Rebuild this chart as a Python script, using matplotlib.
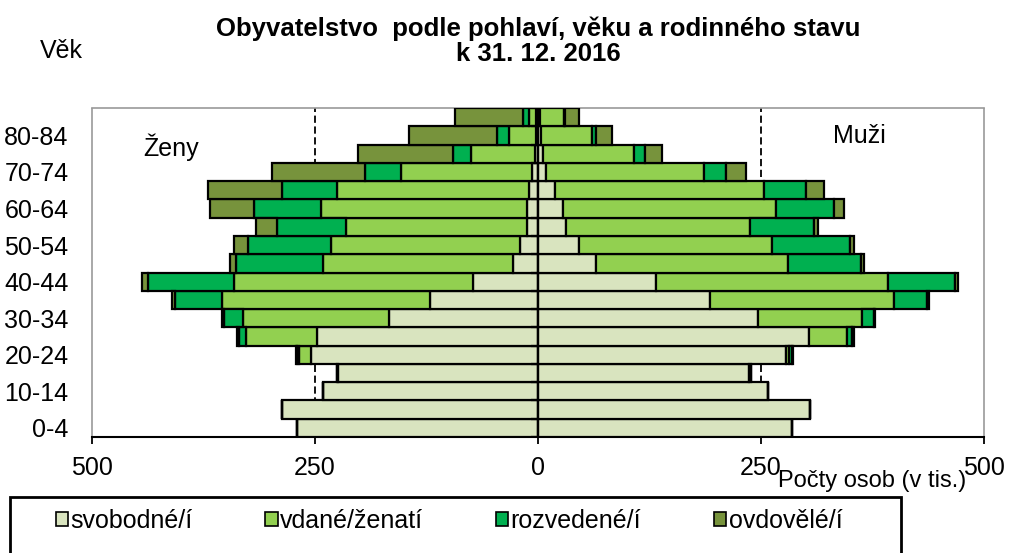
import matplotlib
matplotlib.use("Agg")
import matplotlib.pyplot as plt
import numpy as np
from matplotlib.patches import Rectangle, Patch

plt.rcParams['font.family'] = ['Liberation Sans', 'DejaVu Sans']

age_groups = ["0-4", "5-9", "10-14", "15-19", "20-24", "25-29", "30-34", "35-39",
              "40-44", "45-49", "50-54", "55-59", "60-64", "65-69", "70-74",
              "75-79", "80-84", "85+"]
series_labels = ["svobodné/í", "vdané/ženatí", "rozvedené/í", "ovdovělé/í"]
colors = ["#D9E4BF", "#92D050", "#00B050", "#77933C"]

# Women (thousands)
women_single = [270, 287.5, 240.8, 224, 255, 247.5, 166.5, 120.6, 73.2, 27.9, 19.7, 12.2, 12.2, 10.4, 6.6, 3.7, 2, 2]
women_married = [0, 0, 0, 1, 13, 80.4, 164, 234.2, 267.8, 212.9, 212.1, 203.6, 230.9, 214.7, 146.8, 71.3, 30.8, 8.4]
women_divorced = [0, 0, 0, 0, 2, 7, 21.7, 52.6, 95.9, 97.9, 93.5, 76.6, 75.5, 62.4, 40, 20.1, 13, 6.7]
women_widowed = [0, 0, 0, 0, 1, 2, 2.6, 3.4, 7.5, 6.8, 15.7, 24.3, 49.3, 82.2, 104.6, 106.9, 98.3, 75.5]

# Men (thousands)
men_single = [284.7, 304.5, 257.8, 236.9, 278, 304.1, 246.6, 193.2, 132.7, 65.4, 45.6, 31.8, 27.7, 18.7, 9.4, 5.7, 3.5, 2]
men_married = [0, 0, 0, 1.5, 3, 42.2, 116.6, 205.4, 259.2, 214.8, 216.7, 206.2, 239.1, 234.2, 177.1, 102.3, 57.1, 26.8]
men_divorced = [0, 0, 0, 0, 4, 5.7, 13, 37.4, 75.8, 82.2, 87, 71, 64.6, 47.1, 24.3, 11.6, 4.8, 1.9]
men_widowed = [0, 0, 0, 0, 1, 1.8, 1.5, 2.5, 3, 2.6, 4.5, 4.4, 11.2, 20.2, 22.7, 19.4, 17.6, 15]

x_ticks = [-500, -250, 0, 250, 500]
x_ticklabels = ["500", "250", "0", "250", "500"]

W, H = 1010, 553
fig = plt.figure(figsize=(W / 100, H / 100), dpi=100)
ax = fig.add_axes([92 / W, 1 - 437 / H, (984 - 92) / W, (437 - 108) / H])

fs = 18
y = np.arange(len(age_groups))

women = [women_single, women_married, women_divorced, women_widowed]
men = [men_single, men_married, men_divorced, men_widowed]

left_w = np.zeros(len(y))
left_m = np.zeros(len(y))
for vals_w, vals_m, c in zip(women, men, colors):
    vw = np.array(vals_w, dtype=float)
    vm = np.array(vals_m, dtype=float)
    ax.barh(y, -vw, left=-left_w, height=1.0, color=c, edgecolor="black",
            linewidth=1.6, zorder=3)
    ax.barh(y, vm, left=left_m, height=1.0, color=c, edgecolor="black",
            linewidth=1.6, zorder=3)
    left_w += vw
    left_m += vm

# dashed reference lines at +-250
for xv in (-250, 250):
    ax.axvline(xv, color="black", linestyle=(0, (4, 2)), linewidth=1.3, zorder=1)

# central axis with small category ticks
ax.axvline(0, color="black", linewidth=1.6, zorder=4)
bounds = np.arange(len(y) + 1) - 0.5
ax.hlines(bounds, -8, 0, color="black", linewidth=1.6, zorder=4)

ax.set_xlim(-500, 500)
ax.set_ylim(-0.5, len(y) - 0.5)

ax.set_xticks(x_ticks)
ax.set_xticklabels(x_ticklabels, fontsize=fs)
ax.tick_params(axis="x", direction="out", length=5, width=1.3, pad=9, colors="black")

ax.set_yticks(y[::2])
ax.set_yticklabels(age_groups[::2], fontsize=fs)
ax.tick_params(axis="y", length=0, pad=17)

for side in ("left", "top", "right"):
    ax.spines[side].set_color("#999999")
    ax.spines[side].set_linestyle((0, (2, 1)))
    ax.spines[side].set_linewidth(1.2)
ax.spines["bottom"].set_color("black")
ax.spines["bottom"].set_linewidth(1.5)

# Texts
fig.text(538 / W, 1 - 36 / H, "Obyvatelstvo  podle pohlaví, věku a rodinného stavu",
         ha="center", va="baseline", fontsize=18.5, fontweight="bold")
fig.text(538 / W, 1 - 61 / H, "k 31. 12. 2016",
         ha="center", va="baseline", fontsize=18.5, fontweight="bold")
fig.text(40 / W, 1 - 58 / H, "Věk", ha="left", va="baseline", fontsize=fs)
fig.text(143 / W, 1 - 156 / H, "Ženy", ha="left", va="baseline", fontsize=fs)
fig.text(833 / W, 1 - 143 / H, "Muži", ha="left", va="baseline", fontsize=fs)
fig.text(778 / W, 1 - 487 / H, "Počty osob (v tis.)", ha="left", va="baseline", fontsize=17)

# Legend frame (extends beyond bottom edge)
fig.add_artist(Rectangle((10 / W, -0.05), (901 - 10) / W, (553 - 497) / H + 0.05,
                         transform=fig.transFigure, fill=False, edgecolor="black",
                         linewidth=2))
handles = [Patch(facecolor=c, edgecolor="black", linewidth=1.2) for c in colors]
fig.legend(handles, series_labels, ncol=4, loc="center",
           bbox_to_anchor=(449 / W, 1 - 521 / H), frameon=False, fontsize=fs,
           handlelength=0.5, handleheight=0.5, handletextpad=0.1,
           columnspacing=2.9, borderpad=0)

fig.savefig("out.png", dpi=100)
